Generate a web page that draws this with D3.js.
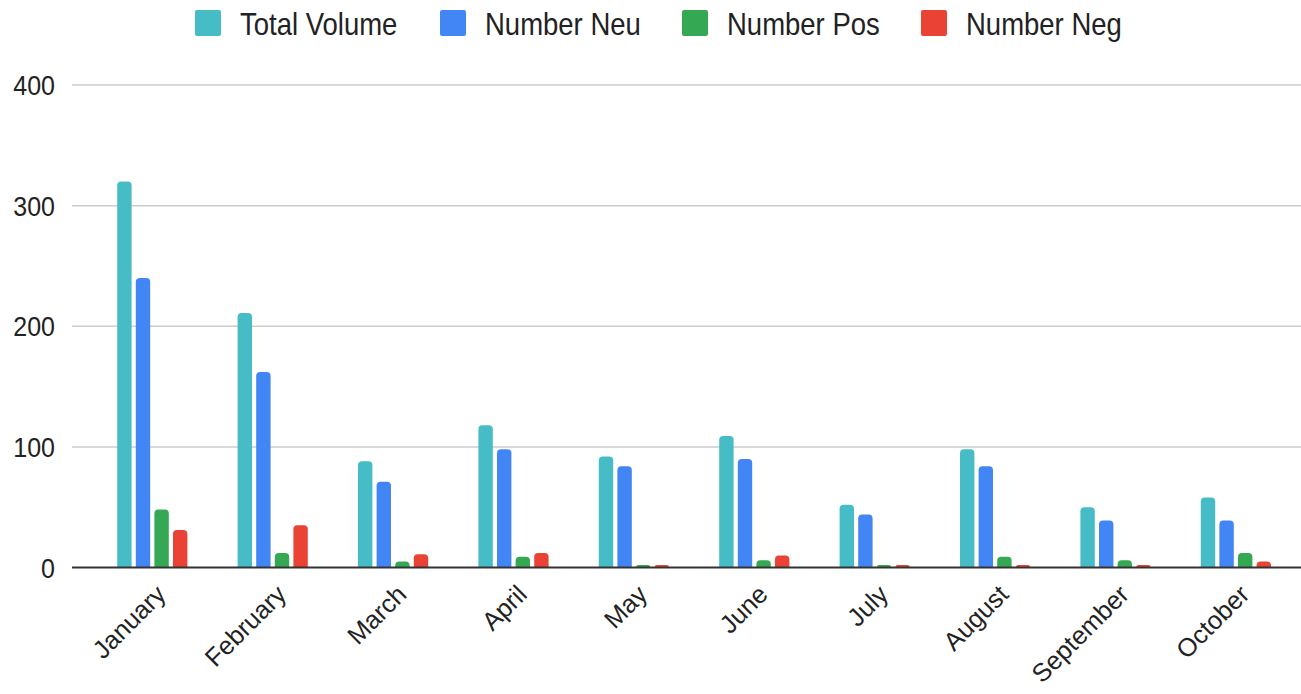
<!DOCTYPE html>
<html>
<head>
<meta charset="utf-8">
<script src="https://cdn.jsdelivr.net/npm/d3@7"></script>
<style>
  html, body { margin: 0; padding: 0; background: #fff; }
  svg { display: block; font-family: "Liberation Sans", Arial, sans-serif; }
</style>
</head>
<body>
<svg id="chart" width="1301" height="694"></svg>
<script>
const categories = ["January","February","March","April","May","June","July","August","September","October"];
const seriesNames = ["Total Volume","Number Neu","Number Pos","Number Neg"];
const seriesColors = ["#46bdc6","#4285f4","#34a853","#ea4335"];
const totalVolume = [320, 211, 88, 118, 92, 109, 52, 98, 50, 58];
const numberNeu   = [240, 162, 71, 98, 84, 90, 44, 84, 39, 39];
const numberPos   = [48, 12, 5, 9, 2, 6, 2, 9, 6, 12];
const numberNeg   = [31, 35, 11, 12, 2, 10, 2, 2, 2, 5];
const yTicks = [0, 100, 200, 300, 400];

const seriesValues = [totalVolume, numberNeu, numberPos, numberNeg];

const svg = d3.select("#chart");
const plotLeft = 72, plotRight = 1301;

const y = d3.scaleLinear().domain([0, 400]).range([567.5, 85]);
const x0 = d3.scaleBand().domain(categories).range([92.1, 1296.1]).padding(0);
const bw = x0.bandwidth();
const groupW = 74.4;
const x1 = d3.scaleBand().domain(seriesNames)
  .range([(bw - groupW) / 2, (bw + groupW) / 2])
  .paddingInner(0.226).paddingOuter(0.113);

// gridlines
svg.append("g").selectAll("line").data(yTicks.filter(t => t > 0)).join("line")
  .attr("x1", plotLeft).attr("x2", plotRight)
  .attr("y1", d => y(d)).attr("y2", d => y(d))
  .attr("stroke", "#cccccc").attr("stroke-width", 1.5);

// y tick labels
svg.append("g").selectAll("text").data(yTicks).join("text")
  .attr("transform", d => `translate(55,${y(d)}) scale(1,1.12)`)
  .attr("text-anchor", "end")
  .attr("dy", "0.36em")
  .attr("font-size", 25)
  .attr("fill", "#222")
  .text(d => d);

// bars with rounded tops
function barPath(xl, w, yt, yb) {
  const h = yb - yt;
  const r = Math.min(4, h, w / 2);
  const p = d3.path();
  p.moveTo(xl, yb);
  p.lineTo(xl, yt + r);
  p.quadraticCurveTo(xl, yt, xl + r, yt);
  p.lineTo(xl + w - r, yt);
  p.quadraticCurveTo(xl + w, yt, xl + w, yt + r);
  p.lineTo(xl + w, yb);
  p.closePath();
  return p.toString();
}

const barData = [];
categories.forEach((c, i) => {
  seriesNames.forEach((s, j) => {
    barData.push({cat: c, series: s, value: seriesValues[j][i], color: seriesColors[j]});
  });
});

svg.append("g").selectAll("path").data(barData).join("path")
  .attr("d", d => barPath(x0(d.cat) + x1(d.series), x1.bandwidth(), y(d.value), y(0)))
  .attr("fill", d => d.color);

// baseline
svg.append("line")
  .attr("x1", plotLeft).attr("x2", plotRight)
  .attr("y1", y(0)).attr("y2", y(0))
  .attr("stroke", "#333").attr("stroke-width", 2);

// x labels
svg.append("g").selectAll("text").data(categories).join("text")
  .attr("transform", d => `translate(${x0(d) + bw / 2 + 15},${596}) rotate(-45)`)
  .attr("text-anchor", "end")
  .attr("font-size", 25.5)
  .attr("fill", "#222")
  .text(d => d);

// legend
const legendX = [195, 440, 682, 921];
const legend = svg.append("g");
seriesNames.forEach((s, i) => {
  legend.append("rect")
    .attr("x", legendX[i]).attr("y", 10)
    .attr("width", 26).attr("height", 26)
    .attr("rx", 2)
    .attr("fill", seriesColors[i]);
  legend.append("text")
    .attr("transform", `translate(${legendX[i] + 45},35) scale(1,1.15)`)
    .attr("font-size", 27.5)
    .attr("fill", "#222")
    .text(s);
});
</script>
</body>
</html>
